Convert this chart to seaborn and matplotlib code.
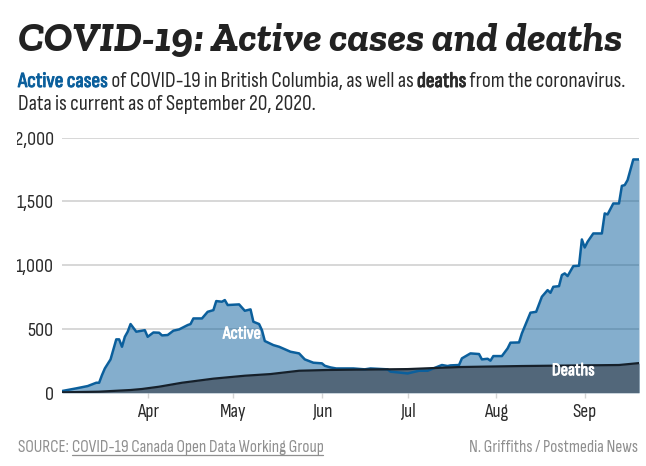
import matplotlib
matplotlib.use("Agg")
import matplotlib.pyplot as plt
import matplotlib.patheffects as pe
from matplotlib.lines import Line2D
from matplotlib.transforms import Bbox
import pandas as pd
import seaborn as sns

active_dates = ["03-02","03-07","03-11","03-14","03-15","03-16","03-17","03-19","03-21","03-22","03-23","03-24","03-25","03-26","03-28","03-30","03-31",
 "04-01","04-03","04-05","04-06","04-08","04-10","04-12","04-15","04-16","04-17","04-20","04-22","04-24","04-25","04-27","04-28","04-29",
 "05-03","05-05","05-07","05-08","05-10","05-11","05-12","05-15","05-17","05-21","05-24","05-26","05-29",
 "06-01","06-02","06-04","06-06","06-12","06-16","06-18","06-24","06-25",
 "07-01","07-05","07-08","07-10","07-13","07-15","07-16","07-19","07-20","07-23","07-26","07-27","07-29","07-30","07-31",
 "08-03","08-05","08-06","08-09","08-10","08-13","08-15","08-17","08-19","08-20","08-21","08-23","08-24","08-25","08-26","08-28","08-30","08-31",
 "09-01","09-02","09-04","09-07","09-08","09-09","09-11","09-13","09-14","09-15","09-16","09-18","09-20"]
active_values = [13,34,52,78,78,138,190,261,418,418,360,438,478,538,478,486,490,
 438,472,470,449,452,486,496,530,538,582,582,634,647,718,713,726,687,
 692,642,653,556,538,490,405,373,360,321,308,261,235,
 230,211,198,190,190,183,190,183,165,
 151,172,172,190,217,209,214,217,269,308,303,261,266,251,287,
 287,347,392,394,465,627,634,752,804,783,830,835,922,935,914,992,995,1201,
 1138,1183,1248,1248,1405,1397,1483,1483,1621,1627,1666,1828,1828]
death_dates = ["03-02","03-15","03-26","03-30","04-05","04-13","04-24","05-05","05-14","05-24","06-03","07-01","07-19","08-10","09-13","09-20"]
death_values = [3,8,21,29,47,78,110,133,146,172,178,185,201,209,217,232]
y_ticks = [0,500,1000,1500,2000]
y_labels = ["0","500","1,000","1,500","2,000"]
month_ticks = ["04-01","05-01","06-01","07-01","08-01","09-01"]
month_labels = ["Apr","May","Jun","Jul","Aug","Sep"]

def to_dates(items):
    return pd.to_datetime(["2020-" + d for d in items])

df_active = pd.DataFrame({"date": to_dates(active_dates), "value": active_values})
df_deaths = pd.DataFrame({"date": to_dates(death_dates), "value": death_values})

W, H = 646, 466
BLUE, DARK, GRID = "#0b5f9c", "#16202a", "#d4d4d4"
NARROW = ["Sofia Sans Condensed", "Roboto", "DejaVu Sans"]

sns.set_theme(style="white")
plt.rcParams["font.family"] = NARROW
fig = plt.figure(figsize=(W/100, H/100), dpi=100, facecolor="white")
ax = fig.add_axes([62/W, 1-392.7/H, (639-62)/W, 255.2/H])

ax.fill_between(df_active["date"], df_active["value"], color="#0b5f9c", alpha=0.5, lw=0, zorder=2)
ax.fill_between(df_deaths["date"], df_deaths["value"], color="#52677a", lw=0, zorder=3)
sns.lineplot(data=df_active, x="date", y="value", color=BLUE, lw=1.8, ax=ax, zorder=4, errorbar=None, estimator=None)
sns.lineplot(data=df_deaths, x="date", y="value", color=DARK, lw=1.6, ax=ax, zorder=5, errorbar=None, estimator=None)

ax.set_xlim(pd.Timestamp("2020-03-02"), pd.Timestamp("2020-09-20"))
ax.set_ylim(0, 2000)
ax.set_xlabel(""); ax.set_ylabel("")
for s in ax.spines.values():
    s.set_visible(False)
ax.set_yticks(y_ticks, y_labels)
ax.set_xticks(to_dates(month_ticks), month_labels)
ax.yaxis.grid(True, color=GRID, lw=1.3, zorder=1)
ax.xaxis.grid(False)
ax.set_axisbelow(True)
ax.tick_params(axis="y", length=4, width=1.3, color=GRID, pad=2, labelsize=14.5, labelcolor="#2a2a2a")
ax.tick_params(axis="x", length=3.6, width=1, color=GRID, pad=4, labelsize=14, labelcolor="#2a2a2a", bottom=True)
# y labels are cropped by the left edge of the chart area in the reference
for lab in ax.get_yticklabels():
    lab.set_clip_box(Bbox([[17, 0], [W, H]]))
    lab.set_clip_on(True)

STROKE = [pe.withStroke(linewidth=0.6, foreground="white")]
ax.text(pd.Timestamp("2020-05-04"), 460, "Active", color="white", fontsize=13, ha="center", va="center", zorder=6, path_effects=STROKE)
ax.text(pd.Timestamp("2020-08-28"), 172, "Deaths", color="white", fontsize=13, ha="center", va="center", zorder=6, path_effects=STROKE)

def ftext(x, y, s, **kw):
    return fig.text(x/W, 1-y/H, s, va="baseline", **kw)

ftext(18, 51, "COVID-19: Active cases and deaths", fontsize=30, fontweight="bold", style="italic",
      family=["Zilla Slab", "DejaVu Serif"], color="#222222")

fig.canvas.draw()
r = fig.canvas.get_renderer()
def run(x, y, parts):
    for s, kw in parts:
        t = ftext(x, y, s, **kw)
        x = t.get_window_extent(r).x1
    return x
SUB = dict(fontsize=15.5, color="#2a2a2a")
run(18, 87, [("Active cases", dict(SUB, color=BLUE, path_effects=[pe.withStroke(linewidth=0.7, foreground=BLUE)])),
             ("\u00a0of COVID-19 in British Columbia, as well as\u00a0", SUB),
             ("deaths", dict(SUB, path_effects=[pe.withStroke(linewidth=0.7, foreground="#2a2a2a")])),
             ("\u00a0from the coronavirus.", SUB)])
ftext(18, 110, "Data is current as of September 20, 2020.", **SUB)

FOOT = dict(fontsize=12.4, color="#8f8f8f")
t = ftext(18, 452, "SOURCE:\u00a0", **FOOT)
x0 = t.get_window_extent(r).x1
t2 = ftext(x0, 452, "COVID-19 Canada Open Data Working Group", **FOOT)
x1 = t2.get_window_extent(r).x1
fig.add_artist(Line2D([x0/W, x1/W], [1-454.5/H]*2, color="#8f8f8f", lw=0.9))
fig.text(638/W, 1-452/H, "N. Griffiths / Postmedia News", ha="right", va="baseline", **FOOT)

fig.savefig("out.png", dpi=100)
